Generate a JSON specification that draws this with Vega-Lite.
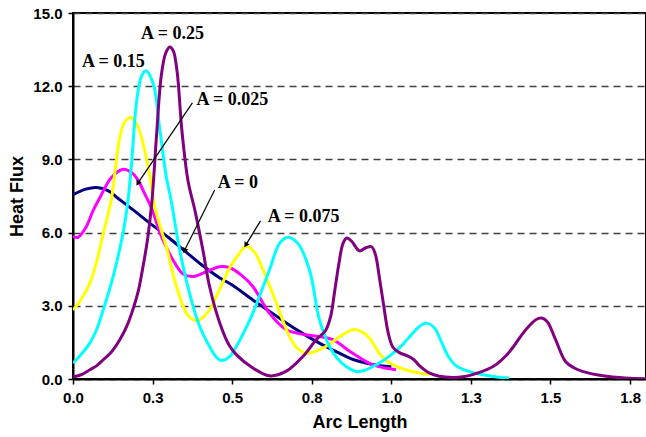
{
  "$schema": "https://vega.github.io/schema/vega-lite/v6.json",
  "width": 573,
  "height": 366,
  "autosize": "none",
  "padding": {"left": 73, "top": 13, "right": 0, "bottom": 58},
  "background": "white",
  "config": {
    "view": {"stroke": "black", "strokeWidth": 2},
    "font": "Liberation Sans"
  },
  "datasets": {
    "curves": [
      {"A": "A = 0", "x": 0, "y": 7.55}, {"A": "A = 0", "x": 0.04, "y": 7.78}, {"A": "A = 0", "x": 0.075, "y": 7.85}, {"A": "A = 0", "x": 0.11, "y": 7.72}, {"A": "A = 0", "x": 0.14, "y": 7.42}, {"A": "A = 0", "x": 0.19, "y": 6.92}, {"A": "A = 0", "x": 0.24, "y": 6.4}, {"A": "A = 0", "x": 0.3, "y": 5.8}, {"A": "A = 0", "x": 0.36, "y": 5.15}, {"A": "A = 0", "x": 0.41, "y": 4.62}, {"A": "A = 0", "x": 0.46, "y": 4.15}, {"A": "A = 0", "x": 0.5, "y": 3.85}, {"A": "A = 0", "x": 0.565, "y": 3.24}, {"A": "A = 0", "x": 0.62, "y": 2.75}, {"A": "A = 0", "x": 0.67, "y": 2.3}, {"A": "A = 0", "x": 0.72, "y": 1.88}, {"A": "A = 0", "x": 0.774, "y": 1.47}, {"A": "A = 0", "x": 0.83, "y": 1.1}, {"A": "A = 0", "x": 0.88, "y": 0.8}, {"A": "A = 0", "x": 0.94, "y": 0.6}, {"A": "A = 0", "x": 1.0, "y": 0.5},

      {"A": "A = 0.025", "x": 0, "y": 5.85}, {"A": "A = 0.025", "x": 0.015, "y": 5.8}, {"A": "A = 0.025", "x": 0.04, "y": 6.2}, {"A": "A = 0.025", "x": 0.063, "y": 6.9}, {"A": "A = 0.025", "x": 0.085, "y": 7.45}, {"A": "A = 0.025", "x": 0.12, "y": 8.25}, {"A": "A = 0.025", "x": 0.158, "y": 8.6}, {"A": "A = 0.025", "x": 0.185, "y": 8.45}, {"A": "A = 0.025", "x": 0.204, "y": 8.15}, {"A": "A = 0.025", "x": 0.225, "y": 7.6}, {"A": "A = 0.025", "x": 0.247, "y": 7.0}, {"A": "A = 0.025", "x": 0.273, "y": 6.0}, {"A": "A = 0.025", "x": 0.295, "y": 5.35}, {"A": "A = 0.025", "x": 0.314, "y": 4.88}, {"A": "A = 0.025", "x": 0.346, "y": 4.3}, {"A": "A = 0.025", "x": 0.377, "y": 4.2}, {"A": "A = 0.025", "x": 0.419, "y": 4.4}, {"A": "A = 0.025", "x": 0.46, "y": 4.6}, {"A": "A = 0.025", "x": 0.492, "y": 4.56}, {"A": "A = 0.025", "x": 0.53, "y": 4.25}, {"A": "A = 0.025", "x": 0.565, "y": 3.79}, {"A": "A = 0.025", "x": 0.617, "y": 2.7}, {"A": "A = 0.025", "x": 0.67, "y": 2.02}, {"A": "A = 0.025", "x": 0.732, "y": 1.81}, {"A": "A = 0.025", "x": 0.774, "y": 1.74}, {"A": "A = 0.025", "x": 0.816, "y": 1.61}, {"A": "A = 0.025", "x": 0.878, "y": 1.06}, {"A": "A = 0.025", "x": 0.94, "y": 0.59}, {"A": "A = 0.025", "x": 0.98, "y": 0.45}, {"A": "A = 0.025", "x": 1.015, "y": 0.38},

      {"A": "A = 0.075", "x": 0, "y": 2.83}, {"A": "A = 0.075", "x": 0.025, "y": 3.25}, {"A": "A = 0.075", "x": 0.053, "y": 3.93}, {"A": "A = 0.075", "x": 0.075, "y": 4.85}, {"A": "A = 0.075", "x": 0.095, "y": 5.97}, {"A": "A = 0.075", "x": 0.111, "y": 6.8}, {"A": "A = 0.075", "x": 0.121, "y": 7.4}, {"A": "A = 0.075", "x": 0.132, "y": 8.5}, {"A": "A = 0.075", "x": 0.147, "y": 9.9}, {"A": "A = 0.075", "x": 0.163, "y": 10.55}, {"A": "A = 0.075", "x": 0.181, "y": 10.72}, {"A": "A = 0.075", "x": 0.2, "y": 10.45}, {"A": "A = 0.075", "x": 0.215, "y": 9.9}, {"A": "A = 0.075", "x": 0.24, "y": 8.43}, {"A": "A = 0.075", "x": 0.256, "y": 7.1}, {"A": "A = 0.075", "x": 0.275, "y": 6.2}, {"A": "A = 0.075", "x": 0.293, "y": 5.43}, {"A": "A = 0.075", "x": 0.325, "y": 3.79}, {"A": "A = 0.075", "x": 0.356, "y": 2.7}, {"A": "A = 0.075", "x": 0.375, "y": 2.45}, {"A": "A = 0.075", "x": 0.393, "y": 2.4}, {"A": "A = 0.075", "x": 0.41, "y": 2.55}, {"A": "A = 0.075", "x": 0.429, "y": 2.84}, {"A": "A = 0.075", "x": 0.461, "y": 3.68}, {"A": "A = 0.075", "x": 0.492, "y": 4.55}, {"A": "A = 0.075", "x": 0.52, "y": 5.1}, {"A": "A = 0.075", "x": 0.544, "y": 5.43}, {"A": "A = 0.075", "x": 0.57, "y": 5.2}, {"A": "A = 0.075", "x": 0.597, "y": 4.47}, {"A": "A = 0.075", "x": 0.639, "y": 3.11}, {"A": "A = 0.075", "x": 0.68, "y": 1.74}, {"A": "A = 0.075", "x": 0.705, "y": 1.25}, {"A": "A = 0.075", "x": 0.732, "y": 1.06}, {"A": "A = 0.075", "x": 0.76, "y": 1.12}, {"A": "A = 0.075", "x": 0.794, "y": 1.33}, {"A": "A = 0.075", "x": 0.84, "y": 1.75}, {"A": "A = 0.075", "x": 0.878, "y": 2.02}, {"A": "A = 0.075", "x": 0.905, "y": 1.95}, {"A": "A = 0.075", "x": 0.931, "y": 1.68}, {"A": "A = 0.075", "x": 0.962, "y": 1.05}, {"A": "A = 0.075", "x": 0.985, "y": 0.75}, {"A": "A = 0.075", "x": 1.015, "y": 0.52}, {"A": "A = 0.075", "x": 1.05, "y": 0.36}, {"A": "A = 0.075", "x": 1.098, "y": 0.22}, {"A": "A = 0.075", "x": 1.12, "y": 0.18},

      {"A": "A = 0.15", "x": 0, "y": 0.65}, {"A": "A = 0.15", "x": 0.025, "y": 1.0}, {"A": "A = 0.15", "x": 0.053, "y": 1.47}, {"A": "A = 0.15", "x": 0.075, "y": 2.05}, {"A": "A = 0.15", "x": 0.095, "y": 2.84}, {"A": "A = 0.15", "x": 0.126, "y": 4.2}, {"A": "A = 0.15", "x": 0.157, "y": 5.97}, {"A": "A = 0.15", "x": 0.173, "y": 7.34}, {"A": "A = 0.15", "x": 0.184, "y": 8.84}, {"A": "A = 0.15", "x": 0.2, "y": 11.4}, {"A": "A = 0.15", "x": 0.215, "y": 12.4}, {"A": "A = 0.15", "x": 0.229, "y": 12.63}, {"A": "A = 0.15", "x": 0.252, "y": 12.1}, {"A": "A = 0.15", "x": 0.273, "y": 10.2}, {"A": "A = 0.15", "x": 0.293, "y": 8.29}, {"A": "A = 0.15", "x": 0.308, "y": 7.34}, {"A": "A = 0.15", "x": 0.335, "y": 5.29}, {"A": "A = 0.15", "x": 0.366, "y": 3.52}, {"A": "A = 0.15", "x": 0.398, "y": 2.15}, {"A": "A = 0.15", "x": 0.429, "y": 1.33}, {"A": "A = 0.15", "x": 0.45, "y": 0.9}, {"A": "A = 0.15", "x": 0.466, "y": 0.76}, {"A": "A = 0.15", "x": 0.492, "y": 0.92}, {"A": "A = 0.15", "x": 0.513, "y": 1.33}, {"A": "A = 0.15", "x": 0.54, "y": 2.0}, {"A": "A = 0.15", "x": 0.565, "y": 2.7}, {"A": "A = 0.15", "x": 0.617, "y": 4.47}, {"A": "A = 0.15", "x": 0.649, "y": 5.56}, {"A": "A = 0.15", "x": 0.675, "y": 5.81}, {"A": "A = 0.15", "x": 0.706, "y": 5.56}, {"A": "A = 0.15", "x": 0.743, "y": 4.47}, {"A": "A = 0.15", "x": 0.774, "y": 2.43}, {"A": "A = 0.15", "x": 0.806, "y": 1.33}, {"A": "A = 0.15", "x": 0.83, "y": 0.85}, {"A": "A = 0.15", "x": 0.857, "y": 0.52}, {"A": "A = 0.15", "x": 0.889, "y": 0.31}, {"A": "A = 0.15", "x": 0.915, "y": 0.35}, {"A": "A = 0.15", "x": 0.94, "y": 0.5}, {"A": "A = 0.15", "x": 0.965, "y": 0.68}, {"A": "A = 0.15", "x": 0.995, "y": 0.95}, {"A": "A = 0.15", "x": 1.035, "y": 1.4}, {"A": "A = 0.15", "x": 1.065, "y": 1.85}, {"A": "A = 0.15", "x": 1.088, "y": 2.15}, {"A": "A = 0.15", "x": 1.111, "y": 2.29}, {"A": "A = 0.15", "x": 1.135, "y": 2.1}, {"A": "A = 0.15", "x": 1.158, "y": 1.5}, {"A": "A = 0.15", "x": 1.18, "y": 0.9}, {"A": "A = 0.15", "x": 1.2, "y": 0.58}, {"A": "A = 0.15", "x": 1.223, "y": 0.4}, {"A": "A = 0.15", "x": 1.26, "y": 0.25}, {"A": "A = 0.15", "x": 1.296, "y": 0.15}, {"A": "A = 0.15", "x": 1.33, "y": 0.08}, {"A": "A = 0.15", "x": 1.37, "y": 0.04},

      {"A": "A = 0.25", "x": 0, "y": 0.08}, {"A": "A = 0.25", "x": 0.03, "y": 0.2}, {"A": "A = 0.25", "x": 0.053, "y": 0.38}, {"A": "A = 0.25", "x": 0.075, "y": 0.55}, {"A": "A = 0.25", "x": 0.095, "y": 0.79}, {"A": "A = 0.25", "x": 0.12, "y": 1.1}, {"A": "A = 0.25", "x": 0.147, "y": 1.61}, {"A": "A = 0.25", "x": 0.17, "y": 2.2}, {"A": "A = 0.25", "x": 0.188, "y": 2.84}, {"A": "A = 0.25", "x": 0.205, "y": 3.6}, {"A": "A = 0.25", "x": 0.22, "y": 4.61}, {"A": "A = 0.25", "x": 0.235, "y": 5.8}, {"A": "A = 0.25", "x": 0.248, "y": 7.3}, {"A": "A = 0.25", "x": 0.262, "y": 9.9}, {"A": "A = 0.25", "x": 0.277, "y": 12.4}, {"A": "A = 0.25", "x": 0.291, "y": 13.35}, {"A": "A = 0.25", "x": 0.304, "y": 13.61}, {"A": "A = 0.25", "x": 0.315, "y": 13.45}, {"A": "A = 0.25", "x": 0.327, "y": 12.6}, {"A": "A = 0.25", "x": 0.342, "y": 10.2}, {"A": "A = 0.25", "x": 0.361, "y": 8.15}, {"A": "A = 0.25", "x": 0.384, "y": 6.85}, {"A": "A = 0.25", "x": 0.408, "y": 5.29}, {"A": "A = 0.25", "x": 0.429, "y": 3.79}, {"A": "A = 0.25", "x": 0.461, "y": 2.3}, {"A": "A = 0.25", "x": 0.492, "y": 1.35}, {"A": "A = 0.25", "x": 0.513, "y": 1.0}, {"A": "A = 0.25", "x": 0.565, "y": 0.45}, {"A": "A = 0.25", "x": 0.617, "y": 0.13}, {"A": "A = 0.25", "x": 0.669, "y": 0.31}, {"A": "A = 0.25", "x": 0.722, "y": 0.92}, {"A": "A = 0.25", "x": 0.764, "y": 1.61}, {"A": "A = 0.25", "x": 0.794, "y": 2.0}, {"A": "A = 0.25", "x": 0.81, "y": 2.6}, {"A": "A = 0.25", "x": 0.822, "y": 3.6}, {"A": "A = 0.25", "x": 0.835, "y": 4.7}, {"A": "A = 0.25", "x": 0.848, "y": 5.55}, {"A": "A = 0.25", "x": 0.86, "y": 5.78}, {"A": "A = 0.25", "x": 0.875, "y": 5.65}, {"A": "A = 0.25", "x": 0.9, "y": 5.25}, {"A": "A = 0.25", "x": 0.92, "y": 5.38}, {"A": "A = 0.25", "x": 0.938, "y": 5.42}, {"A": "A = 0.25", "x": 0.95, "y": 5.1}, {"A": "A = 0.25", "x": 0.962, "y": 4.2}, {"A": "A = 0.25", "x": 0.975, "y": 3.1}, {"A": "A = 0.25", "x": 0.99, "y": 1.9}, {"A": "A = 0.25", "x": 1.005, "y": 1.3}, {"A": "A = 0.25", "x": 1.025, "y": 1.08}, {"A": "A = 0.25", "x": 1.05, "y": 0.95}, {"A": "A = 0.25", "x": 1.07, "y": 0.8}, {"A": "A = 0.25", "x": 1.088, "y": 0.55}, {"A": "A = 0.25", "x": 1.119, "y": 0.25}, {"A": "A = 0.25", "x": 1.15, "y": 0.11}, {"A": "A = 0.25", "x": 1.192, "y": 0.06}, {"A": "A = 0.25", "x": 1.23, "y": 0.1}, {"A": "A = 0.25", "x": 1.265, "y": 0.22}, {"A": "A = 0.25", "x": 1.3, "y": 0.38}, {"A": "A = 0.25", "x": 1.33, "y": 0.6}, {"A": "A = 0.25", "x": 1.36, "y": 0.95}, {"A": "A = 0.25", "x": 1.385, "y": 1.35}, {"A": "A = 0.25", "x": 1.412, "y": 1.85}, {"A": "A = 0.25", "x": 1.435, "y": 2.2}, {"A": "A = 0.25", "x": 1.455, "y": 2.44}, {"A": "A = 0.25", "x": 1.472, "y": 2.5}, {"A": "A = 0.25", "x": 1.49, "y": 2.35}, {"A": "A = 0.25", "x": 1.516, "y": 1.61}, {"A": "A = 0.25", "x": 1.547, "y": 0.72}, {"A": "A = 0.25", "x": 1.575, "y": 0.45}, {"A": "A = 0.25", "x": 1.6, "y": 0.31}, {"A": "A = 0.25", "x": 1.65, "y": 0.16}, {"A": "A = 0.25", "x": 1.694, "y": 0.08}, {"A": "A = 0.25", "x": 1.75, "y": 0.03}, {"A": "A = 0.25", "x": 1.8, "y": 0.01}
    ],
    "labels": [
      {"label": "A = 0.25", "x": 0.214, "y": 14.13},
      {"label": "A = 0.15", "x": 0.028, "y": 13.0},
      {"label": "A = 0.025", "x": 0.388, "y": 11.43},
      {"label": "A = 0", "x": 0.455, "y": 8.02},
      {"label": "A = 0.075", "x": 0.612, "y": 6.65}
    ],
    "arrows": [
      {"label": "A = 0.025", "x": 0.375, "y": 11.32, "x2": 0.205, "y2": 8.05},
      {"label": "A = 0", "x": 0.445, "y": 7.75, "x2": 0.351, "y2": 5.29},
      {"label": "A = 0.075", "x": 0.589, "y": 6.48, "x2": 0.544, "y2": 5.52}
    ]
  },
  "layer": [
    {
      "data": {"name": "curves"},
      "mark": {"type": "line", "interpolate": "catmull-rom", "strokeWidth": 3, "clip": true},
      "encoding": {
        "x": {
          "field": "x", "type": "quantitative",
          "scale": {"domain": [0, 1.8], "nice": false, "zero": false},
          "axis": {
            "title": "Arc Length",
            "values": [0, 0.25, 0.5, 0.75, 1.0, 1.25, 1.5, 1.75],
            "format": ".1f",
            "grid": false,
            "labelFlush": false,
            "domainColor": "black", "domainWidth": 2,
            "tickColor": "black", "tickSize": 5, "tickWidth": 1.5,
            "labelFont": "Liberation Sans", "labelFontWeight": "bold", "labelFontSize": 15, "labelColor": "black",
            "labelPadding": 6,
            "titleFont": "Liberation Sans", "titleFontWeight": "bold", "titleFontSize": 18, "titleColor": "black",
            "titlePadding": 8
          }
        },
        "y": {
          "field": "y", "type": "quantitative",
          "scale": {"domain": [0, 15], "nice": false},
          "axis": {
            "title": "Heat Flux",
            "values": [0, 3, 6, 9, 12, 15],
            "format": ".1f",
            "labelFlush": false,
            "grid": true, "gridColor": "#404040", "gridDash": [7, 5], "gridWidth": 1.3,
            "domainColor": "black", "domainWidth": 2,
            "tickColor": "black", "tickSize": 5, "tickWidth": 1.5,
            "labelFont": "Liberation Sans", "labelFontWeight": "bold", "labelFontSize": 15, "labelColor": "black",
            "labelPadding": 6,
            "titleFont": "Liberation Sans", "titleFontWeight": "bold", "titleFontSize": 18, "titleColor": "black",
            "titlePadding": 6
          }
        },
        "color": {
          "field": "A", "type": "nominal",
          "scale": {
            "domain": ["A = 0", "A = 0.025", "A = 0.075", "A = 0.15", "A = 0.25"],
            "range": ["#000080", "#FF00FF", "#FFFF00", "#00FFFF", "#800080"]
          },
          "legend": null
        }
      }
    },
    {
      "data": {"name": "arrows"},
      "mark": {"type": "rule", "color": "black", "strokeWidth": 1.2},
      "encoding": {
        "x": {"field": "x", "type": "quantitative"},
        "y": {"field": "y", "type": "quantitative"},
        "x2": {"field": "x2"},
        "y2": {"field": "y2"}
      }
    },
    {
      "data": {"name": "arrows"},
      "transform": [{"filter": "datum.label == 'A = 0.025'"}],
      "mark": {"type": "point", "shape": "triangle", "filled": true, "color": "black", "size": 36, "angle": 214, "opacity": 1},
      "encoding": {
        "x": {"field": "x2", "type": "quantitative"},
        "y": {"field": "y2", "type": "quantitative"}
      }
    },
    {
      "data": {"name": "arrows"},
      "transform": [{"filter": "datum.label == 'A = 0'"}],
      "mark": {"type": "point", "shape": "triangle", "filled": true, "color": "black", "size": 36, "angle": 207, "opacity": 1},
      "encoding": {
        "x": {"field": "x2", "type": "quantitative"},
        "y": {"field": "y2", "type": "quantitative"}
      }
    },
    {
      "data": {"name": "arrows"},
      "transform": [{"filter": "datum.label == 'A = 0.075'"}],
      "mark": {"type": "point", "shape": "triangle", "filled": true, "color": "black", "size": 36, "angle": 212, "opacity": 1},
      "encoding": {
        "x": {"field": "x2", "type": "quantitative"},
        "y": {"field": "y2", "type": "quantitative"}
      }
    },
    {
      "data": {"name": "labels"},
      "mark": {"type": "text", "align": "left", "baseline": "middle", "font": "Liberation Serif", "fontWeight": "bold", "fontSize": 18, "color": "black"},
      "encoding": {
        "x": {"field": "x", "type": "quantitative"},
        "y": {"field": "y", "type": "quantitative"},
        "text": {"field": "label"}
      }
    }
  ]
}
